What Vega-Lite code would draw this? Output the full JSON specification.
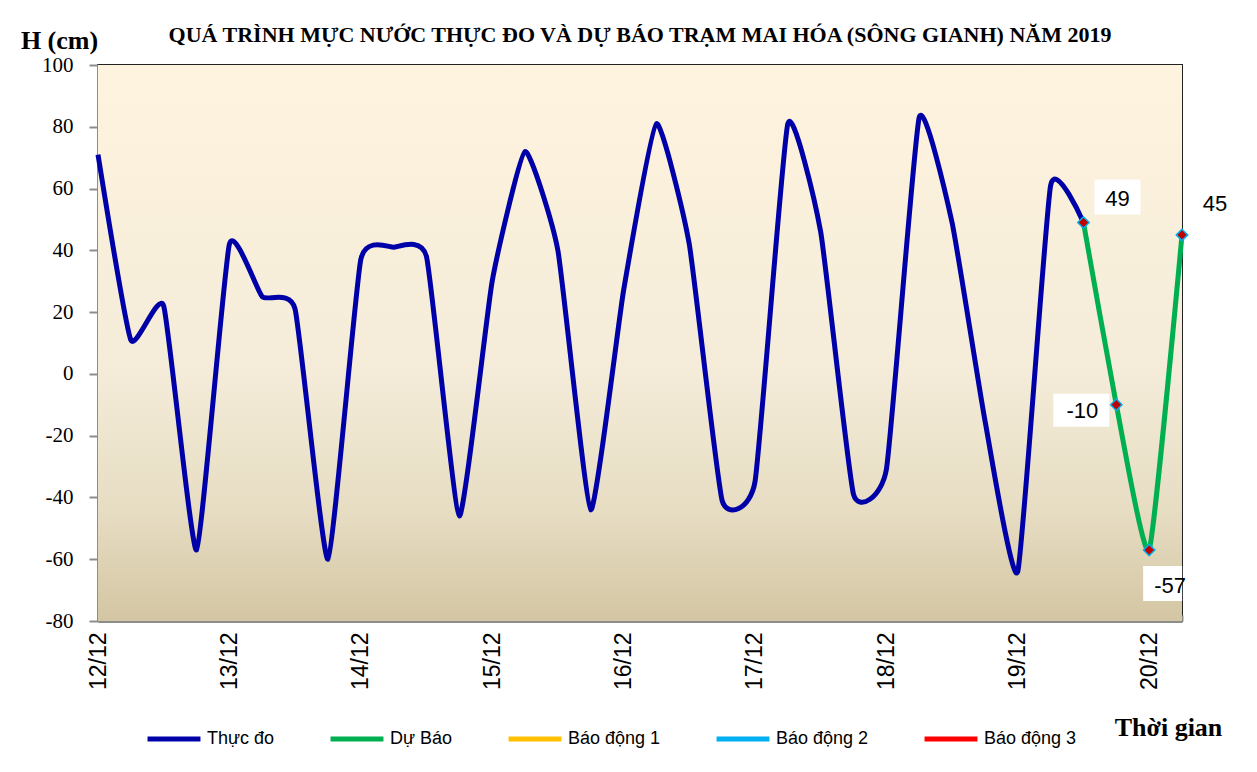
{
  "$schema": "https://vega.github.io/schema/vega-lite/v6.json",
  "autosize": {"type": "none"},
  "width": 1084,
  "height": 556,
  "padding": {"left": 98, "top": 65, "right": 75, "bottom": 151},
  "background": "white",
  "title": {
    "text": "QUÁ TRÌNH MỰC NƯỚC THỰC ĐO VÀ DỰ BÁO TRẠM MAI HÓA (SÔNG GIANH) NĂM 2019",
    "font": "Liberation Serif",
    "fontSize": 22,
    "fontWeight": "bold",
    "color": "#000000",
    "anchor": "middle",
    "frame": "group",
    "offset": -20
  },
  "config": {
    "view": {"stroke": "#222222", "strokeWidth": 2}
  },
  "data": {
    "values": [
      {"t": "2019-12-12T00:00", "h": 71, "s": "Thực đo"},
      {"t": "2019-12-12T06:00", "h": 11, "s": "Thực đo"},
      {"t": "2019-12-12T12:00", "h": 22, "s": "Thực đo"},
      {"t": "2019-12-12T18:00", "h": -57, "s": "Thực đo"},
      {"t": "2019-12-13T00:00", "h": 42, "s": "Thực đo"},
      {"t": "2019-12-13T06:00", "h": 25, "s": "Thực đo"},
      {"t": "2019-12-13T12:00", "h": 21, "s": "Thực đo"},
      {"t": "2019-12-13T18:00", "h": -60, "s": "Thực đo"},
      {"t": "2019-12-14T00:00", "h": 37, "s": "Thực đo"},
      {"t": "2019-12-14T06:00", "h": 41, "s": "Thực đo"},
      {"t": "2019-12-14T12:00", "h": 38, "s": "Thực đo"},
      {"t": "2019-12-14T18:00", "h": -46, "s": "Thực đo"},
      {"t": "2019-12-15T00:00", "h": 30, "s": "Thực đo"},
      {"t": "2019-12-15T06:00", "h": 72, "s": "Thực đo"},
      {"t": "2019-12-15T12:00", "h": 40, "s": "Thực đo"},
      {"t": "2019-12-15T18:00", "h": -44, "s": "Thực đo"},
      {"t": "2019-12-16T00:00", "h": 27, "s": "Thực đo"},
      {"t": "2019-12-16T06:00", "h": 81, "s": "Thực đo"},
      {"t": "2019-12-16T12:00", "h": 42, "s": "Thực đo"},
      {"t": "2019-12-16T18:00", "h": -41, "s": "Thực đo"},
      {"t": "2019-12-17T00:00", "h": -35, "s": "Thực đo"},
      {"t": "2019-12-17T06:00", "h": 81, "s": "Thực đo"},
      {"t": "2019-12-17T12:00", "h": 46, "s": "Thực đo"},
      {"t": "2019-12-17T18:00", "h": -39, "s": "Thực đo"},
      {"t": "2019-12-18T00:00", "h": -31, "s": "Thực đo"},
      {"t": "2019-12-18T06:00", "h": 83, "s": "Thực đo"},
      {"t": "2019-12-18T12:00", "h": 49, "s": "Thực đo"},
      {"t": "2019-12-18T18:00", "h": -15, "s": "Thực đo"},
      {"t": "2019-12-19T00:00", "h": -64, "s": "Thực đo"},
      {"t": "2019-12-19T06:00", "h": 61, "s": "Thực đo"},
      {"t": "2019-12-19T12:00", "h": 49, "s": "Thực đo"},
      {"t": "2019-12-19T12:00", "h": 49, "s": "Dự Báo"},
      {"t": "2019-12-19T18:00", "h": -10, "s": "Dự Báo"},
      {"t": "2019-12-20T00:00", "h": -57, "s": "Dự Báo"},
      {"t": "2019-12-20T06:00", "h": 45, "s": "Dự Báo"}
    ]
  },
  "layer": [
    {
      "mark": {
        "type": "rect",
        "color": {
          "gradient": "linear",
          "x1": 0, "y1": 0, "x2": 0, "y2": 1,
          "stops": [
            {"offset": 0, "color": "#FEF3DE"},
            {"offset": 0.55, "color": "#F4ECD9"},
            {"offset": 0.8, "color": "#E7DDC3"},
            {"offset": 1, "color": "#D4C6A3"}
          ]
        }
      },
      "encoding": {
        "x": {"aggregate": "min", "field": "t", "type": "temporal"},
        "x2": {"aggregate": "max", "field": "t"},
        "y": {"datum": 100, "type": "quantitative"},
        "y2": {"datum": -80}
      }
    },
    {
      "mark": {"type": "line", "interpolate": "cardinal", "tension": 0.55, "strokeWidth": 5},
      "encoding": {
        "x": {
          "field": "t",
          "type": "temporal",
          "scale": {"nice": false},
          "axis": {
            "title": "Thời gian",
            "titleFont": "Liberation Serif",
            "titleFontSize": 26,
            "titleFontWeight": "bold",
            "titleColor": "#000000",
            "titleX": 1070,
            "titleY": 106,
            "titleAlign": "center",
            "titleBaseline": "middle",
            "labelExpr": "hours(datum.value) == 0 ? timeFormat(datum.value, '%d/%m') : ''",
            "labelAngle": -90,
            "labelFont": "Liberation Sans",
            "labelFontSize": 23,
            "labelColor": "#000000",
            "labelPadding": 17,
            "tickSize": -6,
            "tickColor": "#8C8C8C",
            "tickWidth": 2,
            "domainColor": "#8C8C8C",
            "domainWidth": 3,
            "grid": false
          }
        },
        "y": {
          "field": "h",
          "type": "quantitative",
          "scale": {"domain": [-80, 100], "nice": false, "zero": false},
          "axis": {
            "title": "H (cm)",
            "titleFont": "Liberation Serif",
            "titleFontSize": 26,
            "titleFontWeight": "bold",
            "titleColor": "#000000",
            "titleAngle": 0,
            "titleX": -39,
            "titleY": -25,
            "titleAlign": "center",
            "titleBaseline": "middle",
            "values": [-80, -60, -40, -20, 0, 20, 40, 60, 80, 100],
            "labelExpr": "'' + datum.value",
            "labelFont": "Liberation Serif",
            "labelFontSize": 21,
            "labelColor": "#000000",
            "labelPadding": 16,
            "tickSize": 9,
            "tickColor": "#8C8C8C",
            "tickWidth": 2,
            "domainColor": "#8C8C8C",
            "domainWidth": 3,
            "grid": false
          }
        },
        "color": {
          "field": "s",
          "type": "nominal",
          "scale": {
            "domain": ["Thực đo", "Dự Báo", "Báo động 1", "Báo động 2", "Báo động 3"],
            "range": ["#0000A8", "#00B050", "#FFC000", "#00B0F0", "#FF0000"]
          },
          "legend": {
            "title": null,
            "orient": "none",
            "direction": "horizontal",
            "legendX": 47,
            "legendY": 645,
            "symbolType": "stroke",
            "symbolStrokeWidth": 5,
            "symbolSize": 2800,
            "labelFont": "Liberation Sans",
            "labelFontSize": 18,
            "labelColor": "#000000",
            "labelOffset": 4,
            "columnPadding": 45
          }
        }
      }
    },
    {
      "transform": [{"filter": "datum.s == 'Dự Báo'"}],
      "mark": {"type": "point", "shape": "diamond", "filled": true, "fill": "#C00000", "stroke": "#00B0F0", "strokeWidth": 1.5, "size": 130, "opacity": 1},
      "encoding": {"x": {"field": "t", "type": "temporal"}, "y": {"field": "h", "type": "quantitative"}}
    },
    {
      "transform": [{"filter": "datum.s == 'Dự Báo' && datum.h == 49"}],
      "mark": {"type": "rect", "color": "#FFFFFF", "opacity": 1, "xOffset": 11, "x2Offset": 57, "yOffset": -43, "y2Offset": -8},
      "encoding": {"x": {"field": "t", "type": "temporal"}, "x2": {"field": "t"}, "y": {"field": "h", "type": "quantitative"}, "y2": {"field": "h"}}
    },
    {
      "transform": [{"filter": "datum.s == 'Dự Báo' && datum.h == -10"}],
      "mark": {"type": "rect", "color": "#FFFFFF", "opacity": 1, "xOffset": -63, "x2Offset": -7, "yOffset": -11, "y2Offset": 22},
      "encoding": {"x": {"field": "t", "type": "temporal"}, "x2": {"field": "t"}, "y": {"field": "h", "type": "quantitative"}, "y2": {"field": "h"}}
    },
    {
      "transform": [{"filter": "datum.s == 'Dự Báo' && datum.h == -57"}],
      "mark": {"type": "rect", "color": "#FFFFFF", "opacity": 1, "xOffset": -6, "x2Offset": 33, "yOffset": 16, "y2Offset": 51},
      "encoding": {"x": {"field": "t", "type": "temporal"}, "x2": {"field": "t"}, "y": {"field": "h", "type": "quantitative"}, "y2": {"field": "h"}}
    },
    {
      "transform": [{"filter": "datum.s == 'Dự Báo' && datum.h == 49"}],
      "mark": {"type": "text", "font": "Liberation Sans", "fontSize": 22, "color": "#000000", "dx": 34, "dy": -24},
      "encoding": {"x": {"field": "t", "type": "temporal"}, "y": {"field": "h", "type": "quantitative"}, "text": {"field": "h", "type": "nominal"}}
    },
    {
      "transform": [{"filter": "datum.s == 'Dự Báo' && datum.h == 45"}],
      "mark": {"type": "text", "font": "Liberation Sans", "fontSize": 22, "color": "#000000", "dx": 33, "dy": -31},
      "encoding": {"x": {"field": "t", "type": "temporal"}, "y": {"field": "h", "type": "quantitative"}, "text": {"field": "h", "type": "nominal"}}
    },
    {
      "transform": [{"filter": "datum.s == 'Dự Báo' && datum.h == -10"}],
      "mark": {"type": "text", "font": "Liberation Sans", "fontSize": 22, "color": "#000000", "dx": -34, "dy": 6},
      "encoding": {"x": {"field": "t", "type": "temporal"}, "y": {"field": "h", "type": "quantitative"}, "text": {"field": "h", "type": "nominal"}}
    },
    {
      "transform": [{"filter": "datum.s == 'Dự Báo' && datum.h == -57"}],
      "mark": {"type": "text", "font": "Liberation Sans", "fontSize": 22, "color": "#000000", "dx": 21, "dy": 36},
      "encoding": {"x": {"field": "t", "type": "temporal"}, "y": {"field": "h", "type": "quantitative"}, "text": {"field": "h", "type": "nominal"}}
    }
  ]
}
